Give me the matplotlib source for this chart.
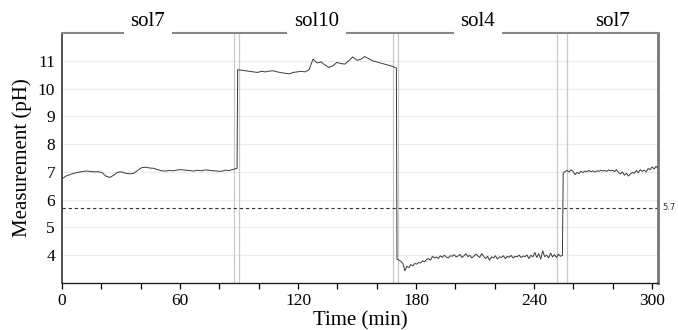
#!/usr/bin/env python3
"""
pH measurement over time with solution change markers
"""

import numpy as np
import matplotlib
matplotlib.use('Agg')
import matplotlib.pyplot as plt
from matplotlib.ticker import MultipleLocator, FuncFormatter

# solution labels and segment boundaries (min)
solutions = ['sol7', 'sol10', 'sol4', 'sol7']
seg_starts = [0.0, 89.3, 170.3, 254.8]
seg_ends = [89.0, 170.0, 254.4, 303.0]

# event marker lines (min), pairs around each change
event_lines = [87.4, 90.0, 168.5, 171.0, 251.8, 256.6]
threshold = 5.7

# pH readings per segment
ph_sol7a = [6.75, 6.85, 6.90, 6.95, 6.98, 7.01, 7.03, 7.02, 7.00, 7.01,
            6.98, 6.85, 6.80, 6.88, 6.99, 7.00, 6.95, 6.93, 6.95, 7.05,
            7.15, 7.17, 7.14, 7.13, 7.08, 7.04, 7.03, 7.05, 7.04, 7.07,
            7.08, 7.06, 7.05, 7.03, 7.06, 7.04, 7.07, 7.06, 7.04, 7.03,
            7.02, 7.06, 7.05, 7.09, 7.13]
ph_sol10 = [10.68, 10.66, 10.64, 10.62, 10.60, 10.58, 10.62, 10.60, 10.63, 10.64,
            10.60, 10.57, 10.55, 10.53, 10.58, 10.60, 10.62, 10.60, 10.68, 11.06,
            10.92, 10.96, 10.85, 10.76, 10.82, 10.94, 10.90, 10.88, 11.00, 11.14,
            11.02, 11.05, 11.15, 11.08, 11.00, 10.96, 10.92, 10.88, 10.84, 10.80,
            10.74]
ph_sol4 = [3.86, 3.82, 3.78, 3.70, 3.44, 3.60, 3.55, 3.66, 3.62, 3.70,
           3.68, 3.74, 3.72, 3.80, 3.76, 3.85, 3.88, 3.82, 3.96, 3.90,
           3.94, 3.88, 3.98, 3.92, 4.00, 3.94, 3.90, 3.98, 3.96, 4.02,
           3.94, 3.97, 4.03, 3.92, 3.98, 4.05, 3.95, 4.00, 3.90, 3.96,
           4.04, 3.98, 3.92, 4.06, 3.96, 3.88, 3.96, 3.82, 3.94, 3.90,
           3.98, 3.86, 3.94, 3.92, 3.98, 3.88, 3.96, 3.93, 3.99, 3.90,
           3.96, 3.94, 4.00, 3.92, 3.97, 3.95, 4.01, 3.88, 4.00, 3.94,
           4.10, 3.92, 4.05, 3.86, 4.16, 3.95, 4.00, 3.90, 4.08, 3.94,
           4.02, 3.92, 4.04, 3.96, 4.00]
ph_sol7b = [6.95, 7.02, 7.05, 7.00, 7.07, 7.02, 6.90, 6.98, 6.94, 7.02,
            6.98, 7.03, 7.00, 7.05, 7.01, 7.04, 6.99, 7.04, 7.02, 7.06,
            7.03, 7.05, 7.02, 7.07, 7.04, 7.06, 7.01, 7.08, 6.98, 6.93,
            7.00, 6.88, 6.95, 6.85, 6.92, 6.98, 6.95, 7.05, 6.97, 7.08,
            7.02, 7.06, 7.00, 7.12, 7.08, 7.18, 7.10, 7.20, 7.13]

segments = [ph_sol7a, ph_sol10, ph_sol4, ph_sol7b]

# readings are evenly spaced within each segment
times = np.concatenate([np.linspace(s, e, len(v))
                        for s, e, v in zip(seg_starts, seg_ends, segments)])
values = np.concatenate(segments)

plt.rcParams['font.family'] = ['Liberation Serif', 'DejaVu Serif']

fig = plt.figure(figsize=(6.78, 3.30), dpi=100)
ax = fig.add_axes([62 / 678, 1 - 283 / 330, 596 / 678, 250 / 330])

# horizontal grid
for y in range(4, 12):
    ax.axhline(y, color='#ebebeb', linewidth=0.9, zorder=0)

# event markers
for x in event_lines:
    ax.axvline(x, color='#c8c8c8', linewidth=0.9, zorder=1)

# threshold
ax.axhline(threshold, color='#333333', linewidth=0.8, linestyle=(0, (3, 2.5)), zorder=2)
ax.text(1.008, threshold, str(threshold), transform=ax.get_yaxis_transform(),
        fontsize=6, family='DejaVu Sans', color='#333333', va='center', ha='left')

ax.plot(times, values, color='#3a3a3a', linewidth=0.7, zorder=3)

ax.set_xlim(0, 303)
ax.set_ylim(3, 12)

# x ticks every 20 min, labels every 60
ax.xaxis.set_major_locator(MultipleLocator(20))
ax.xaxis.set_major_formatter(FuncFormatter(lambda v, p: f'{int(v)}' if int(round(v)) % 60 == 0 else ''))
ax.tick_params(axis='x', direction='out', length=4, width=0.9, pad=3, labelsize=12.5)

ax.set_yticks(range(4, 12))
ax.tick_params(axis='y', length=0, pad=5, labelsize=12.5)

ax.set_xlabel('Time (min)', fontsize=15, labelpad=2)
ax.set_ylabel('Measurement (pH)', fontsize=15, labelpad=4)

ax.spines['left'].set_color('#333333')
ax.spines['left'].set_linewidth(1.2)
ax.spines['bottom'].set_color('#222222')
ax.spines['bottom'].set_linewidth(1.0)
ax.spines['top'].set_color('#888888')
ax.spines['top'].set_linewidth(1.5)
ax.spines['right'].set_color('#777777')
ax.spines['right'].set_linewidth(2.0)

# solution labels above each segment
for i, name in enumerate(solutions):
    lo = 0.0 if i == 0 else event_lines[2 * i - 1]
    hi = 303.0 if i == len(solutions) - 1 else event_lines[2 * i]
    kw = {}
    if i < len(solutions) - 1:
        kw['bbox'] = dict(facecolor='white', edgecolor='none', pad=5)
    ax.text((lo + hi) / 2, 1.008, name, transform=ax.get_xaxis_transform(),
            fontsize=15, ha='center', va='bottom', clip_on=False, zorder=5, **kw)

fig.savefig('out.png', dpi=100)
